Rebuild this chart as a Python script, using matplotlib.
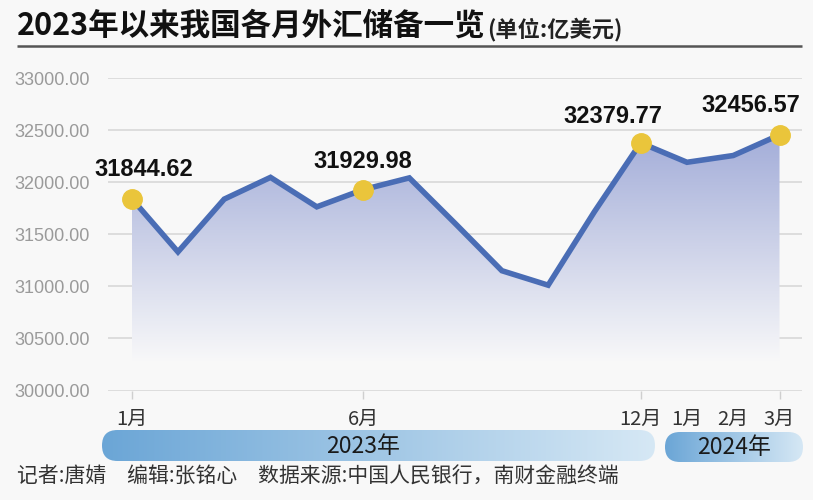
import numpy as np
import matplotlib
matplotlib.use("Agg")
import matplotlib.pyplot as plt
from matplotlib import font_manager
from matplotlib.patches import FancyBboxPatch

plt.rcParams['font.family'] = ['Noto Sans CJK SC', 'DejaVu Sans']

# 数据
month_labels = ['1月', '', '', '', '', '6月', '', '', '', '', '', '12月', '1月', '2月', '3月']
reserves = [31844.62, 31332, 31839, 32048, 31765, 31929.98, 32043, 31601,
            31151, 31012, 31718, 32379.77, 32193, 32258, 32456.57]
highlight = [0, 5, 11, 14]
yticks = [30000, 30500, 31000, 31500, 32000, 32500, 33000]
years = ['2023年', '2024年']

names = {f.name for f in font_manager.fontManager.ttflist}
num_font = 'Liberation Sans Narrow' if 'Liberation Sans Narrow' in names else 'Liberation Sans'
num_size = 19 if num_font == 'Liberation Sans Narrow' else 17

bg = '#f8f8f8'
W, H = 813, 500
fig = plt.figure(figsize=(W / 100, H / 100), dpi=100, facecolor=bg)

# 整体画布（像素坐标）
over = fig.add_axes([0, 0, 1, 1])
over.set_xlim(0, W)
over.set_ylim(H, 0)
over.axis('off')

# 主图
ax = fig.add_axes([108 / W, 1 - 390.5 / H, (802 - 108) / W, (390.5 - 78.3) / H])
ax.patch.set_visible(False)
x = np.arange(len(reserves))
ax.set_xlim(-0.512, 14.486)
ax.set_ylim(30000, 33000)

for s in ax.spines.values():
    s.set_visible(False)
ax.set_yticks(yticks)
ax.set_yticklabels(['%.2f' % v for v in yticks], family='Liberation Sans')
for v in yticks:
    ax.axhline(v, color='#d6d6d6', lw=1.1, zorder=1)
ax.tick_params(axis='y', length=0, pad=13, labelsize=13, labelcolor='#9a9a9a')

tick_pos = [i for i, m in enumerate(month_labels) if m]
ax.set_xticks(tick_pos)
ax.set_xticklabels([month_labels[i] for i in tick_pos])
ax.tick_params(axis='x', length=6, width=1, color='#cfcfcf', pad=7,
               labelsize=14.5, labelcolor='#333333')
for t, p in zip(ax.xaxis.get_major_ticks(), tick_pos):
    if p not in highlight:
        t.tick1line.set_visible(False)

# 渐变填充
fill_bottom = 30280
poly = ax.fill_between(x, reserves, fill_bottom, color='none', lw=0)
top_c = np.array([0.64, 0.68, 0.85])
bot_c = np.array([0.972, 0.972, 0.976])
n = 256
t = np.linspace(0, 1, n)[:, None]
grad = top_c * (1 - t) + bot_c * t
img = np.repeat(grad[:, None, :], 2, axis=1)
im = ax.imshow(img, extent=[0, 14, fill_bottom, max(reserves)], aspect='auto',
               origin='upper', zorder=2)
im.set_clip_path(poly.get_paths()[0], transform=ax.transData)
ax.set_xlim(-0.512, 14.486)
ax.set_ylim(30000, 33000)

ax.plot(x, reserves, color='#4a6db5', lw=4, zorder=3, solid_joinstyle='miter')
ax.plot(x[highlight], [reserves[i] for i in highlight], 'o', ms=14, color='#eac53b',
        zorder=4, clip_on=False)

offsets = {0: (9, 21), 5: (0, 20), 11: (-20, 19), 14: (-21, 21)}
for i in highlight:
    ax.annotate('%.2f' % reserves[i], (x[i], reserves[i]), xytext=offsets[i],
                textcoords='offset points', ha='center', va='center',
                fontsize=num_size, fontweight='bold', family=num_font,
                color='#111111', zorder=5, annotation_clip=False)

# 标题
title = over.text(17, 26, '2023年以来我国各月外汇储备一览', fontsize=22, fontweight='bold',
                  color='#111111', va='center', ha='left')
fig.canvas.draw()
bb = title.get_window_extent()
over.text(bb.x1 + 1, 29, '(单位:亿美元)', fontsize=16, fontweight='bold',
          color='#222222', va='center', ha='left')
over.plot([17, 802], [46, 46], color='#555555', lw=1.8, solid_capstyle='butt')

# 年份条
bars = [(102, 430, 655, 461, 363), (665, 432, 803, 462, 734)]
bar_grad = np.linspace(0, 1, 256)[None, :, None]
left_c = np.array([0.42, 0.65, 0.84])
right_c = np.array([0.84, 0.91, 0.96])
bar_img = np.repeat(left_c * (1 - bar_grad) + right_c * bar_grad, 2, axis=0)
for (x0, y0, x1, y1, cx), label in zip(bars, years):
    h = y1 - y0
    patch = FancyBboxPatch((x0, y0), x1 - x0, h, boxstyle='round,pad=0,rounding_size=%g' % (h / 2),
                           facecolor='none', edgecolor='none')
    over.add_patch(patch)
    bim = over.imshow(bar_img, extent=[x0, x1, y1, y0], aspect='auto', origin='upper')
    bim.set_clip_path(patch)
    over.text(cx, (y0 + y1) / 2 + 1, label, fontsize=16.5, color='#1a1a1a',
              ha='center', va='center')
over.set_xlim(0, W)
over.set_ylim(H, 0)

# 脚注
over.text(17, 477, '记者:唐婧\u3000编辑:张铭心\u3000数据来源:中国人民银行，南财金融终端',
          fontsize=15, color='#333333', va='center', ha='left')

fig.savefig('out.png', dpi=100, facecolor=bg)
